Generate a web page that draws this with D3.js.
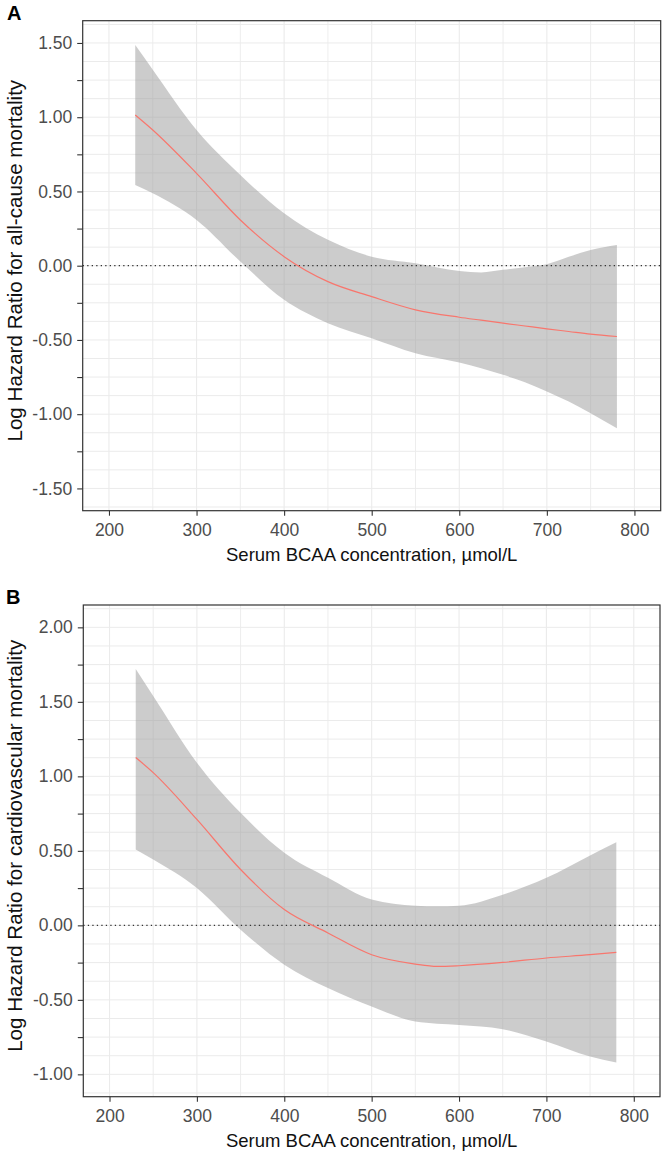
<!DOCTYPE html>
<html>
<head>
<meta charset="utf-8">
<script src="https://cdn.jsdelivr.net/npm/d3@7"></script>
<style>
  html, body { margin: 0; padding: 0; background: #fff; }
  svg { display: block; font-family: "Liberation Sans", Arial, sans-serif; }
</style>
</head>
<body>
<svg id="chart" width="664" height="1159"></svg>
<script>
// ---------- Data ----------
const panelLabels = ["A", "B"];
const xTitle = "Serum BCAA concentration, µmol/L";
const yTitles = ["Log Hazard Ratio for all-cause mortality", "Log Hazard Ratio for cardiovascular mortality"];
const xTicks = [200, 300, 400, 500, 600, 700, 800];

// Panel A: all-cause mortality
const bcaaA  = [230, 250, 300, 350, 400, 450, 500, 550, 600, 625, 650, 675, 700, 725, 750, 780];
const fitA   = [1.015, 0.914, 0.622, 0.308, 0.061, -0.107, -0.208, -0.297, -0.347, -0.367, -0.387, -0.406, -0.425, -0.443, -0.461, -0.477];
const upperA = [1.486, 1.32, 0.914, 0.611, 0.353, 0.174, 0.061, 0.017, -0.035, -0.045, -0.028, -0.01, 0.01, 0.06, 0.106, 0.14];
const lowerA = [0.544, 0.488, 0.308, 0.028, -0.23, -0.387, -0.488, -0.589, -0.652, -0.69, -0.735, -0.785, -0.847, -0.915, -0.993, -1.094];
const yTicksA = [-1.5, -1.25, -1.0, -0.75, -0.5, -0.25, 0, 0.25, 0.5, 0.75, 1.0, 1.25, 1.5];

// Panel B: cardiovascular mortality
const bcaaB  = [230, 250, 300, 350, 400, 450, 500, 550, 575, 600, 650, 700, 750, 780];
const fitB   = [1.126, 1.025, 0.711, 0.375, 0.106, -0.051, -0.197, -0.26, -0.276, -0.271, -0.249, -0.219, -0.197, -0.181];
const upperB = [1.72, 1.54, 1.092, 0.756, 0.487, 0.319, 0.173, 0.132, 0.128, 0.132, 0.206, 0.319, 0.469, 0.558];
const lowerB = [0.509, 0.442, 0.251, -0.029, -0.264, -0.421, -0.545, -0.646, -0.66, -0.668, -0.697, -0.78, -0.881, -0.921];
const yTicksB = [-1.0, -0.75, -0.5, -0.25, 0, 0.25, 0.5, 0.75, 1.0, 1.25, 1.5, 1.75, 2.0];

// ---------- Drawing ----------
const svg = d3.select("#chart");

function drawPanel(opt) {
  const { left, top, right, bottom, xDomain, yDomain, xs, fit, up, lo, yTicks, label, yTitle } = opt;
  const x = d3.scaleLinear().domain(xDomain).range([left, right]);
  const y = d3.scaleLinear().domain(yDomain).range([bottom, top]);
  const g = svg.append("g");

  g.append("rect").attr("x", left).attr("y", top).attr("width", right - left).attr("height", bottom - top).attr("fill", "#fff");

  // grid lines (major + minor)
  const xGrid = d3.range(Math.ceil(xDomain[0] / 50) * 50, xDomain[1] + 0.01, 50);
  const yGrid = d3.range(Math.ceil(yDomain[0] / 0.125) * 0.125, yDomain[1] + 1e-9, 0.125);
  g.selectAll(".vg").data(xGrid).enter().append("line")
    .attr("x1", d => x(d)).attr("x2", d => x(d)).attr("y1", top).attr("y2", bottom)
    .attr("stroke", "#ebebeb").attr("stroke-width", d => d % 100 === 0 ? 1.1 : 0.9);
  g.selectAll(".hg").data(yGrid).enter().append("line")
    .attr("y1", d => y(d)).attr("y2", d => y(d)).attr("x1", left).attr("x2", right)
    .attr("stroke", "#ebebeb").attr("stroke-width", 1);

  const rows = xs.map((v, i) => ({ x: v, fit: fit[i], up: up[i], lo: lo[i] }));

  // ribbon
  const area = d3.area().x(d => x(d.x)).y0(d => y(d.lo)).y1(d => y(d.up)).curve(d3.curveMonotoneX);
  g.append("path").datum(rows).attr("d", area).attr("fill", "#999999").attr("fill-opacity", 0.5);

  // dotted zero line
  g.append("line").attr("x1", left).attr("x2", right).attr("y1", y(0)).attr("y2", y(0))
    .attr("stroke", "#333").attr("stroke-width", 1.3).attr("stroke-dasharray", "1.3,3.2");

  // fitted line
  const line = d3.line().x(d => x(d.x)).y(d => y(d.fit)).curve(d3.curveMonotoneX);
  g.append("path").datum(rows).attr("d", line).attr("fill", "none").attr("stroke", "#F8766D").attr("stroke-width", 1.2);

  // axes
  const xAxis = d3.axisBottom(x).tickValues(xTicks).tickSize(5).tickPadding(8).tickFormat(d3.format("d"));
  const yAxis = d3.axisLeft(y).tickValues(yTicks).tickSize(5.5).tickPadding(5)
    .tickFormat(d => (Math.abs(d * 2 - Math.round(d * 2)) < 1e-9) ? d3.format(".2f")(d).replace("−", "-") : "");
  const gx = g.append("g").attr("transform", `translate(0,${bottom})`).call(xAxis);
  const gy = g.append("g").attr("transform", `translate(${left},0)`).call(yAxis);
  [gx, gy].forEach(a => {
    a.select(".domain").remove();
    a.selectAll(".tick line").attr("stroke", "#333").attr("stroke-width", 1.1);
    a.selectAll(".tick text").attr("fill", "#4d4d4d").attr("font-size", 17.5).attr("font-family", "Liberation Sans, Arial, sans-serif");
  });

  // panel border
  g.append("rect").attr("x", left).attr("y", top).attr("width", right - left).attr("height", bottom - top)
    .attr("fill", "none").attr("stroke", "#333").attr("stroke-width", 1.2);

  // titles
  g.append("text").attr("x", (left + right) / 2).attr("y", bottom + 50).attr("text-anchor", "middle")
    .attr("font-size", 18.5).attr("fill", "#111").text(xTitle);
  g.append("text").attr("transform", `translate(22,${(top + bottom) / 2 - 5}) rotate(-90)`).attr("text-anchor", "middle")
    .attr("font-size", 20.6).attr("fill", "#111").text(yTitle);

  // panel label
  g.append("text").attr("x", opt.labelX).attr("y", opt.labelY).attr("font-size", 20).attr("font-weight", "bold")
    .attr("fill", "#000").text(label);
}

drawPanel({
  left: 82.7, top: 20.7, right: 660.7, bottom: 510.7,
  xDomain: [170, 830], yDomain: [-1.65, 1.65],
  xs: bcaaA, fit: fitA, up: upperA, lo: lowerA, yTicks: yTicksA,
  label: panelLabels[0], labelX: 7, labelY: 20, yTitle: yTitles[0]
});
drawPanel({
  left: 83.3, top: 605, right: 660, bottom: 1096.7,
  xDomain: [170, 830], yDomain: [-1.15, 2.15],
  xs: bcaaB, fit: fitB, up: upperB, lo: lowerB, yTicks: yTicksB,
  label: panelLabels[1], labelX: 6, labelY: 604, yTitle: yTitles[1]
});
</script>
</body>
</html>
